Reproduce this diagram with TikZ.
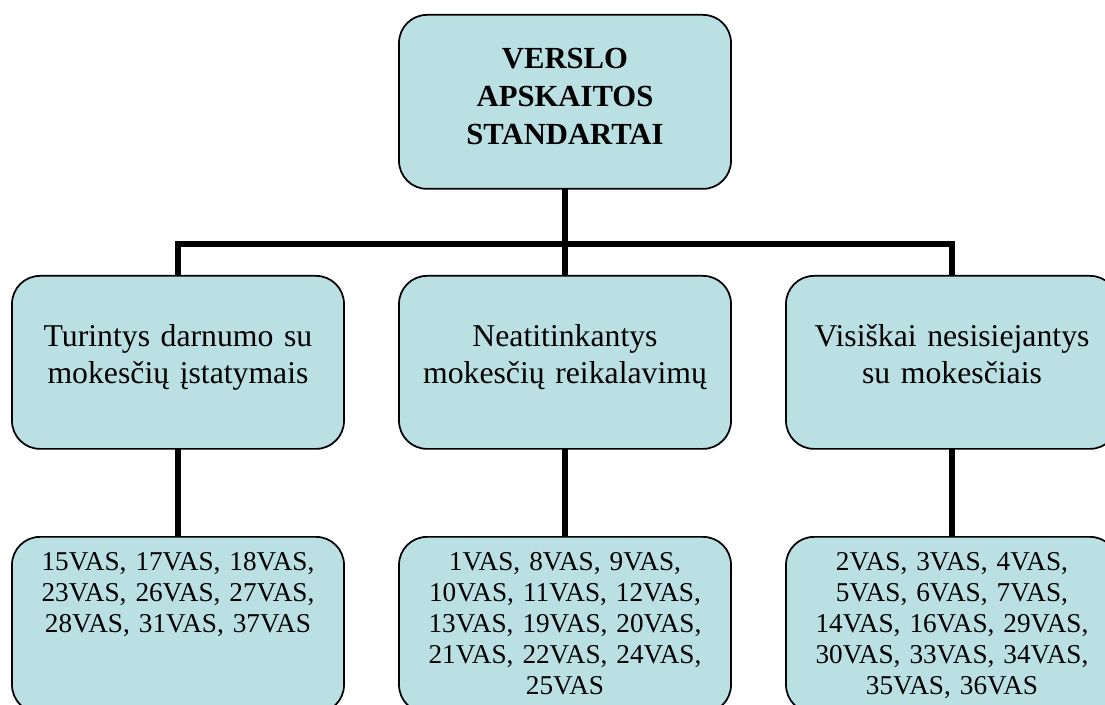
\documentclass[tikz,border=0pt]{standalone}
\usepackage{fontspec}
\setmainfont{Liberation Serif}
\definecolor{boxfill}{RGB}{187,224,227}
\begin{document}
\begin{tikzpicture}[x=0.75pt,y=-0.75pt,
  box/.style={draw=black, line width=1.3pt, fill=boxfill, rounded corners=21pt,
    inner sep=0pt, text width=249pt, align=center, anchor=north},
  headbox/.style={box, font=\fontsize{23pt}{28.5pt}\selectfont\bfseries,
    text height=40.5pt, text depth=90pt},
  groupbox/.style={box, font=\fontsize{23.8pt}{27.75pt}\selectfont,
    text height=53.25pt, text depth=76.5pt},
  listbox/.style={box, font=\fontsize{20.4pt}{23.25pt}\selectfont,
    text height=25.5pt, text depth=106.5pt},
  conn/.style={draw=black, line width=4.5pt}]
\useasboundingbox (0,0) rectangle (1105,705);
\clip (0,0) rectangle (1105,705);

% connectors
\coordinate (bar) at (565,244);
\coordinate (gA) at (178,275);
\coordinate (gB) at (565,275);
\coordinate (gC) at (952,275);
\draw[conn] (565,188) -- (gB);
\draw[conn] (gA) |- (bar) -| (gC);
\draw[conn] (178,448) -- (178,536);
\draw[conn] (565,448) -- (565,536);
\draw[conn] (952,448) -- (952,536);

% title
\node[headbox] (head) at (565,14) {VERSLO\\APSKAITOS\\STANDARTAI};

% groups
\node[groupbox] (g1) at (gA) {Turintys darnumo su\\mokesčių įstatymais};
\node[groupbox] (g2) at (gB) {Neatitinkantys\\mokesčių reikalavimų};
\node[groupbox] (g3) at (gC) {Visiškai nesisiejantys\\su mokesčiais};

% standards in each group
\node[listbox] (l1) at (178,536) {15VAS, 17VAS, 18VAS,\\23VAS, 26VAS, 27VAS,\\28VAS, 31VAS, 37VAS};
\node[listbox] (l2) at (565,536) {1VAS, 8VAS, 9VAS,\\10VAS, 11VAS, 12VAS,\\13VAS, 19VAS, 20VAS,\\21VAS, 22VAS, 24VAS,\\25VAS};
\node[listbox] (l3) at (952,536) {2VAS, 3VAS, 4VAS,\\5VAS, 6VAS, 7VAS,\\14VAS, 16VAS, 29VAS,\\30VAS, 33VAS, 34VAS,\\35VAS, 36VAS};
\end{tikzpicture}
\end{document}
